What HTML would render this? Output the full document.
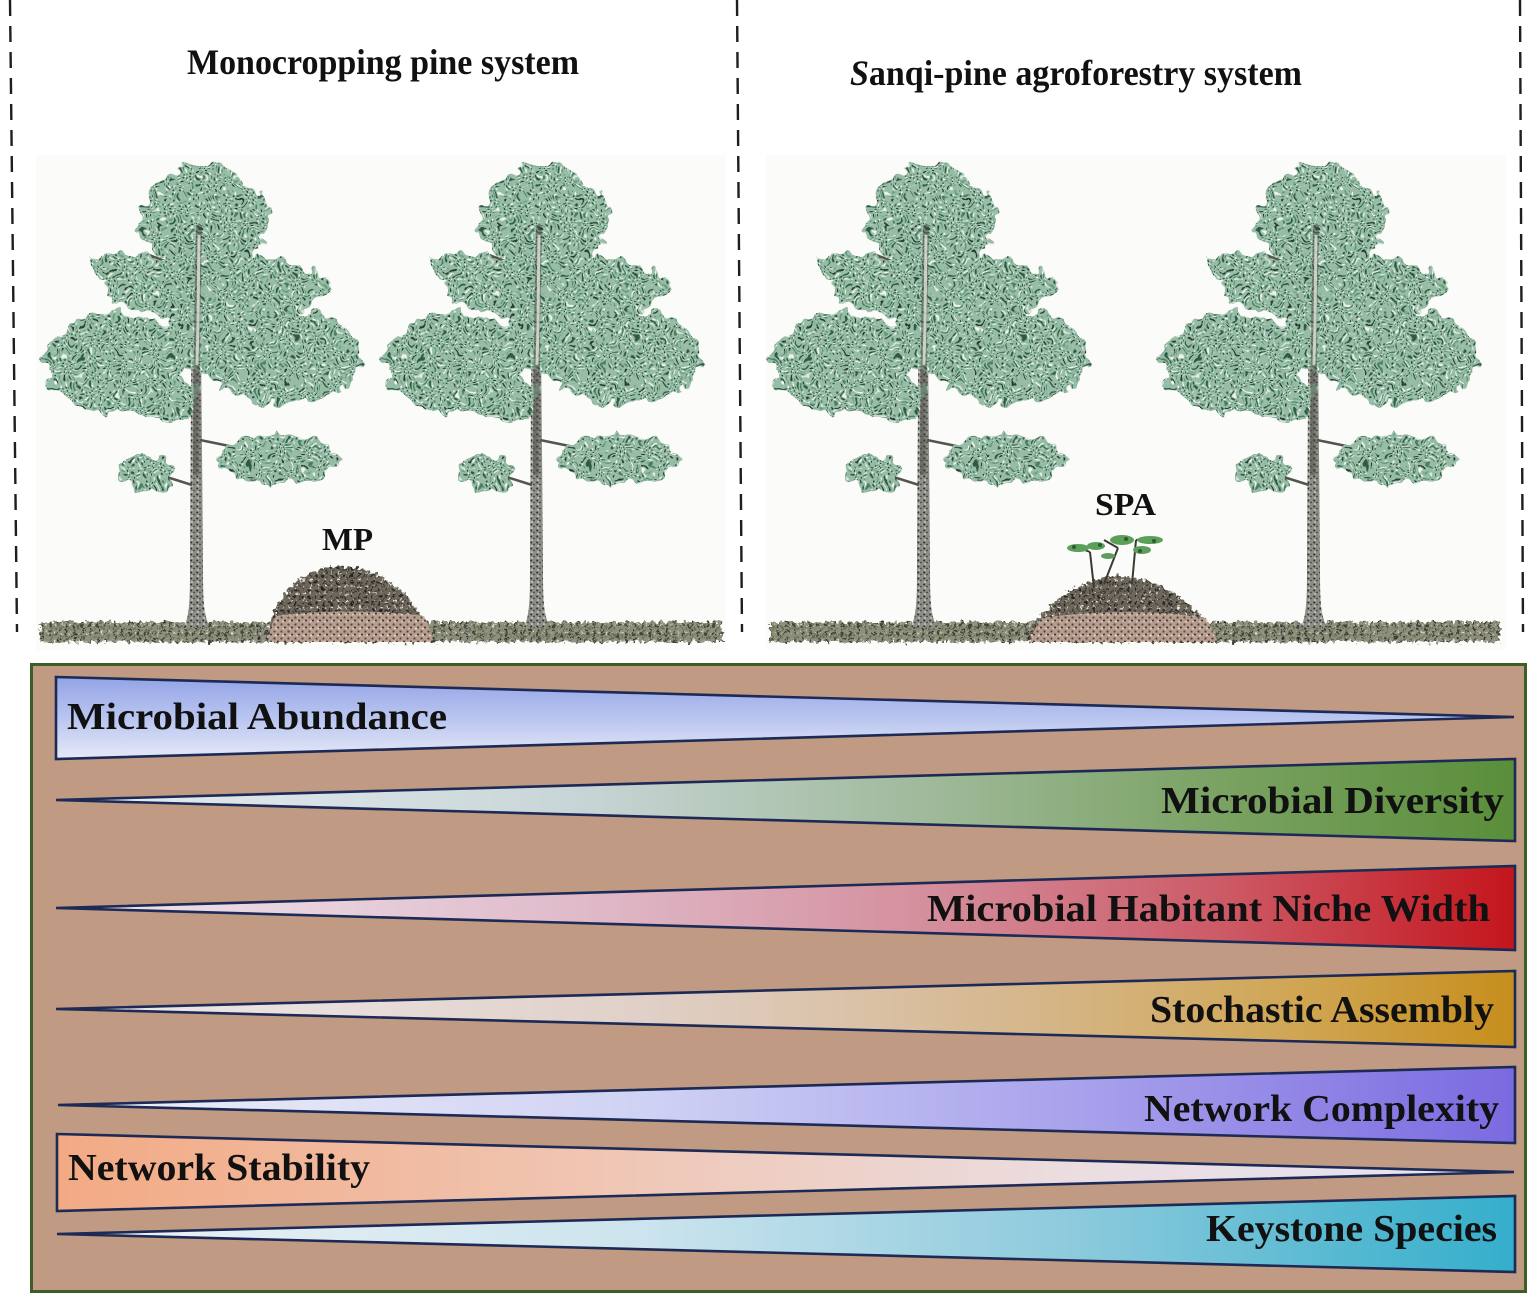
<!DOCTYPE html>
<html><head><meta charset="utf-8"><style>html,body{margin:0;padding:0;background:#fff;}svg{display:block}</style></head>
<body>
<svg width="1535" height="1294" viewBox="0 0 1535 1294" xmlns="http://www.w3.org/2000/svg" xmlns:xlink="http://www.w3.org/1999/xlink">
<defs>
  <pattern id="fol" width="9" height="9" patternUnits="userSpaceOnUse">
    <rect width="9" height="9" fill="#98bda6"/>
    <circle cx="1.5" cy="2" r="1.3" fill="#2e5a45"/>
    <circle cx="6" cy="3" r="1.1" fill="#4a7d60"/>
    <circle cx="3.5" cy="6.5" r="1.1" fill="#263c30"/>
    <circle cx="7.5" cy="7.5" r="1" fill="#5f9a78"/>
    <circle cx="4.5" cy="0.8" r="1.1" fill="#eef3ee"/>
    <circle cx="8" cy="5" r="0.9" fill="#e6eee8"/>
  </pattern>
  <pattern id="bark" width="6" height="6" patternUnits="userSpaceOnUse">
    <rect width="6" height="6" fill="#8e8e88"/>
    <circle cx="1.2" cy="1.5" r="1" fill="#2e2e2a"/>
    <circle cx="4" cy="3.5" r="0.9" fill="#45453f"/>
    <circle cx="2" cy="5" r="0.8" fill="#ececE6"/>
  </pattern>
  <pattern id="grass" width="8" height="8" patternUnits="userSpaceOnUse">
    <rect width="8" height="8" fill="#8f907c"/>
    <circle cx="2" cy="2" r="1.6" fill="#40443a"/>
    <circle cx="6" cy="4" r="1.3" fill="#5f7050"/>
    <circle cx="3" cy="6.5" r="1.1" fill="#34322c"/>
    <circle cx="6.5" cy="0.8" r="0.8" fill="#e4e0d4"/>
  </pattern>
  <pattern id="soil" width="7" height="7" patternUnits="userSpaceOnUse">
    <rect width="7" height="7" fill="#6e685c"/>
    <circle cx="1.5" cy="1.5" r="1.4" fill="#222220"/>
    <circle cx="5" cy="4" r="1.1" fill="#3f3a30"/>
    <circle cx="3" cy="5.5" r="0.9" fill="#f0ece6"/>
  </pattern>
  <pattern id="soilL" width="7" height="7" patternUnits="userSpaceOnUse">
    <rect width="7" height="7" fill="#c4a898"/>
    <circle cx="1.5" cy="1.5" r="1.1" fill="#5e4a40"/>
    <circle cx="5" cy="4.5" r="1" fill="#2e2824"/>
    <circle cx="3" cy="5.5" r="0.8" fill="#f2ece8"/>
  </pattern>
  <filter id="rough" x="-25%" y="-25%" width="150%" height="150%">
    <feTurbulence type="fractalNoise" baseFrequency="0.07" numOctaves="2" seed="4" result="t"/>
    <feDisplacementMap in="SourceGraphic" in2="t" scale="22" xChannelSelector="R" yChannelSelector="B"/>
  </filter>
  <filter id="rough2" x="-5%" y="-60%" width="110%" height="220%">
    <feTurbulence type="fractalNoise" baseFrequency="0.25" numOctaves="2" seed="7" result="t"/>
    <feDisplacementMap in="SourceGraphic" in2="t" scale="9" xChannelSelector="R" yChannelSelector="G"/>
  </filter>

  <g id="tree">
    <path d="M-12,2 C-6,-10 -6,-30 -6,-60 L-4,-400 L-2,-455 L2,-455 L4,-400 L7,-60 C7,-30 7,-10 14,2 Z" fill="url(#bark)"/>
    <path d="M-4,-140 L-42,-152 M4,-185 L48,-176 M-4,-270 L-62,-292 M4,-282 L72,-300 M0,-352 L-52,-372 M2,-362 L62,-378" stroke="#55554e" stroke-width="2.5" fill="none"/>
    <g filter="url(#rough)" fill="url(#fol)">
      <ellipse cx="8" cy="-405" rx="66" ry="48"/>
      <ellipse cx="6" cy="-440" rx="40" ry="22"/>
      <ellipse cx="-72" cy="-358" rx="36" ry="14"/>
      <ellipse cx="20" cy="-338" rx="112" ry="32"/>
      <ellipse cx="-80" cy="-262" rx="70" ry="50"/>
      <ellipse cx="88" cy="-268" rx="78" ry="48"/>
      <ellipse cx="5" cy="-290" rx="34" ry="36"/>
      <ellipse cx="-36" cy="-228" rx="38" ry="24"/>
      <ellipse cx="82" cy="-166" rx="60" ry="25"/>
      <ellipse cx="-48" cy="-153" rx="29" ry="17"/>
    </g>
    <path d="M0,-150 L1,-300 L3,-400" stroke="#4a4a44" stroke-width="6" fill="none" opacity="0.5"/>
    <path d="M1,-260 L2,-300 L3,-390" stroke="#ecece6" stroke-width="3" fill="none" opacity="0.75"/>
  </g>

  <linearGradient id="g1" gradientUnits="userSpaceOnUse" x1="0" y1="677" x2="0" y2="759">
    <stop offset="0" stop-color="#93a4e6"/><stop offset="0.5" stop-color="#b9c5f0"/><stop offset="1" stop-color="#e6e9f6"/>
  </linearGradient>
  <linearGradient id="g2" gradientUnits="userSpaceOnUse" x1="56" y1="0" x2="1515" y2="0">
    <stop offset="0" stop-color="#e8edf3"/><stop offset="0.35" stop-color="#c9d6d8"/><stop offset="0.6" stop-color="#9fb99a"/><stop offset="0.8" stop-color="#7aa262"/><stop offset="1" stop-color="#5a8e3a"/>
  </linearGradient>
  <linearGradient id="g3" gradientUnits="userSpaceOnUse" x1="56" y1="0" x2="1515" y2="0">
    <stop offset="0" stop-color="#efe6ee"/><stop offset="0.35" stop-color="#e0bccb"/><stop offset="0.6" stop-color="#d48e9c"/><stop offset="0.8" stop-color="#cc5a66"/><stop offset="1" stop-color="#c4151c"/>
  </linearGradient>
  <linearGradient id="g4" gradientUnits="userSpaceOnUse" x1="56" y1="0" x2="1515" y2="0">
    <stop offset="0" stop-color="#efeaec"/><stop offset="0.4" stop-color="#e0d0c8"/><stop offset="0.65" stop-color="#d6b890"/><stop offset="0.85" stop-color="#d0a654"/><stop offset="1" stop-color="#c68e1c"/>
  </linearGradient>
  <linearGradient id="g5" gradientUnits="userSpaceOnUse" x1="56" y1="0" x2="1515" y2="0">
    <stop offset="0" stop-color="#eef0f8"/><stop offset="0.4" stop-color="#d0d2f4"/><stop offset="0.7" stop-color="#a8a2ec"/><stop offset="1" stop-color="#7a6ae0"/>
  </linearGradient>
  <linearGradient id="g6" gradientUnits="userSpaceOnUse" x1="56" y1="0" x2="1515" y2="0">
    <stop offset="0" stop-color="#f2aa84"/><stop offset="0.35" stop-color="#f0c4b0"/><stop offset="0.7" stop-color="#ebdde0"/><stop offset="1" stop-color="#e4e4f4"/>
  </linearGradient>
  <linearGradient id="g7" gradientUnits="userSpaceOnUse" x1="56" y1="0" x2="1515" y2="0">
    <stop offset="0" stop-color="#eef2f6"/><stop offset="0.4" stop-color="#cce4ee"/><stop offset="0.7" stop-color="#8ccadc"/><stop offset="1" stop-color="#34aecb"/>
  </linearGradient>
</defs>

<rect width="1535" height="1294" fill="#ffffff"/>
<rect x="36" y="155" width="690" height="495" fill="#fbfbfa"/>
<rect x="766" y="155" width="740" height="495" fill="#fbfbfa"/>

<!-- dashed separators -->
<g stroke="#1e1e1e" stroke-width="2.4" stroke-dasharray="16 10" fill="none">
  <line x1="10" y1="0" x2="17" y2="632"/>
  <line x1="737" y1="0" x2="742" y2="632"/>
  <line x1="1520" y1="0" x2="1523" y2="632"/>
</g>

<!-- titles -->
<g font-family="'Liberation Serif', serif" font-weight="bold" fill="#111">
  <text x="187" y="74" font-size="36" textLength="392" lengthAdjust="spacingAndGlyphs">Monocropping pine system</text>
  <text x="850" y="85" font-size="36" textLength="452" lengthAdjust="spacingAndGlyphs"><tspan font-style="italic">S</tspan>anqi-pine agroforestry system</text>
  <text x="322" y="550" font-size="32" textLength="51" lengthAdjust="spacingAndGlyphs">MP</text>
  <text x="1095" y="515" font-size="32" textLength="61" lengthAdjust="spacingAndGlyphs">SPA</text>
</g>

<!-- ground -->
<rect x="40" y="622" width="682" height="20" fill="url(#grass)" filter="url(#rough2)"/>
<rect x="770" y="622" width="730" height="20" fill="url(#grass)" filter="url(#rough2)"/>

<!-- trees -->
<use xlink:href="#tree" href="#tree" x="196" y="625"/>
<use xlink:href="#tree" href="#tree" x="536" y="625"/>
<use xlink:href="#tree" href="#tree" x="923" y="625"/>
<use xlink:href="#tree" href="#tree" x="1313" y="625"/>

<!-- MP mound -->
<path d="M266,642 C270,604 294,570 338,566 C384,566 420,600 434,642 Z" fill="url(#soil)" filter="url(#rough2)"/>
<path d="M268,642 C270,630 272,622 276,616 C320,610 380,610 424,616 C428,624 431,632 433,642 Z" fill="url(#soilL)" opacity="0.85"/>

<!-- SPA mound -->
<path d="M1026,642 C1038,608 1075,578 1120,576 C1165,578 1202,610 1220,642 Z" fill="url(#soil)" filter="url(#rough2)"/>
<path d="M1030,642 C1033,632 1037,624 1042,618 C1095,610 1160,610 1206,618 C1210,626 1214,633 1218,642 Z" fill="url(#soilL)" opacity="0.85"/>

<!-- sanqi plants -->
<g stroke="#3a3a30" stroke-width="2" fill="none">
  <path d="M1094,588 L1090,552 M1132,584 L1136,540 M1104,584 L1118,548 M1090,552 L1074,546 M1136,540 L1156,538 M1118,548 L1104,540"/>
</g>
<g fill="#5c9f5a">
  <ellipse cx="1078" cy="548" rx="11" ry="4"/>
  <ellipse cx="1096" cy="546" rx="9" ry="4"/>
  <ellipse cx="1122" cy="540" rx="12" ry="5"/>
  <ellipse cx="1150" cy="540" rx="13" ry="4"/>
  <ellipse cx="1142" cy="550" rx="9" ry="4"/>
  <ellipse cx="1108" cy="556" rx="7" ry="3"/>
</g>
<g fill="#2f5a34">
  <circle cx="1074" cy="547" r="2"/><circle cx="1100" cy="545" r="2"/><circle cx="1126" cy="539" r="2"/><circle cx="1154" cy="541" r="2"/><circle cx="1140" cy="551" r="2"/>
</g>

<!-- bottom panel -->
<rect x="31.5" y="664.5" width="1494" height="627" fill="#c09a82" stroke="#3e5e28" stroke-width="3"/>

<g stroke="#1c2a55" stroke-width="2.6" stroke-linejoin="miter">
  <polygon points="56,677 1514,717 56,759" fill="url(#g1)"/>
  <polygon points="56,800 1515,759 1515,841" fill="url(#g2)"/>
  <polygon points="56,908 1515,866 1515,950" fill="url(#g3)"/>
  <polygon points="56,1009 1515,971 1515,1047" fill="url(#g4)"/>
  <polygon points="58,1105 1515,1067 1515,1143" fill="url(#g5)"/>
  <polygon points="57,1134 1514,1172 57,1211" fill="url(#g6)"/>
  <polygon points="57,1234 1515,1196 1515,1272" fill="url(#g7)"/>
</g>

<g font-family="'Liberation Serif', serif" font-weight="bold" font-size="38" fill="#111" style="white-space:pre">
  <text x="67" y="729" textLength="380" lengthAdjust="spacingAndGlyphs">Microbial  Abundance</text>
  <text x="1161" y="813" textLength="343" lengthAdjust="spacingAndGlyphs">Microbial  Diversity</text>
  <text x="927" y="921" textLength="563" lengthAdjust="spacingAndGlyphs">Microbial  Habitant Niche Width</text>
  <text x="1150" y="1022" textLength="344" lengthAdjust="spacingAndGlyphs">Stochastic Assembly</text>
  <text x="1144" y="1121" textLength="355" lengthAdjust="spacingAndGlyphs">Network Complexity</text>
  <text x="68" y="1180" textLength="302" lengthAdjust="spacingAndGlyphs">Network Stability</text>
  <text x="1206" y="1241" textLength="291" lengthAdjust="spacingAndGlyphs">Keystone Species</text>
</g>
</svg>
</body></html>
